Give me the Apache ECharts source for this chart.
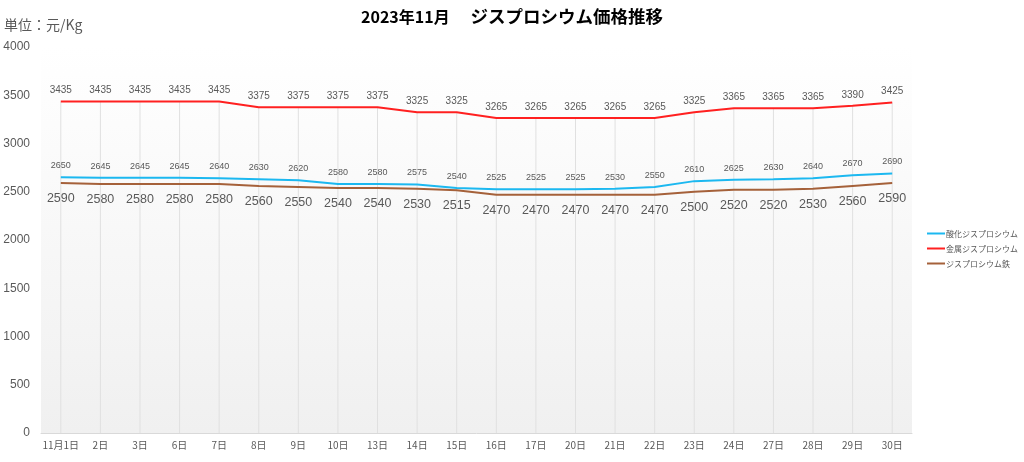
<!DOCTYPE html>
<html>
<head>
<meta charset="utf-8">
<script src="https://cdn.jsdelivr.net/npm/echarts@6/dist/echarts.min.js"></script>
<style>html,body{margin:0;padding:0;background:#fff;}#chart{width:1024px;height:462px;}</style>
</head>
<body>
<div id="chart"></div>
<script>
const categories = ['11月1日','2日','3日','6日','7日','8日','9日','10日','13日','14日','15日','16日','17日','20日','21日','22日','23日','24日','27日','28日','29日','30日'];
const oxideValues = [2650,2645,2645,2645,2640,2630,2620,2580,2580,2575,2540,2525,2525,2525,2530,2550,2610,2625,2630,2640,2670,2690];
const metalValues = [3435,3435,3435,3435,3435,3375,3375,3375,3375,3325,3325,3265,3265,3265,3265,3265,3325,3365,3365,3365,3390,3425];
const ironValues = [2590,2580,2580,2580,2580,2560,2550,2540,2540,2530,2515,2470,2470,2470,2470,2470,2500,2520,2520,2530,2560,2590];
const seriesNames = ['酸化ジスプロシウム','金属ジスプロシウム','ジスプロシウム鉄'];
const yTicks = {min: 0, max: 4000, interval: 500};

const FONT = '"Noto Sans CJK JP", "Noto Sans", sans-serif';
const NUMFONT = '"Liberation Sans", sans-serif';
const chart = echarts.init(document.getElementById('chart'), null, {renderer: 'canvas'});
chart.setOption({
  animation: false,
  backgroundColor: '#ffffff',
  textStyle: {fontFamily: FONT},
  title: [{
    text: '{a|2023年11月}{s|　 }{b|ジスプロシウム価格推移}',
    left: 'center', top: 8, padding: 0,
    textStyle: {
      fontFamily: FONT, fontSize: 16, fontWeight: 'bold', color: '#000000',
      rich: {
        a: {fontFamily: FONT, fontSize: 16, fontWeight: 'bold', color: '#000000'},
        s: {fontFamily: FONT, fontSize: 17, fontWeight: 'bold', color: '#000000'},
        b: {fontFamily: FONT, fontSize: 17.5, fontWeight: 'bold', color: '#000000'}
      }
    }
  }, {
    text: '単位：元/Kg',
    left: 4, top: 18, padding: 0,
    textStyle: {fontFamily: FONT, fontSize: 14, fontWeight: 'normal', color: '#595959'}
  }],
  legend: {
    orient: 'vertical',
    left: 927, top: 228, padding: 0,
    icon: 'rect',
    itemWidth: 18, itemHeight: 2, itemGap: 4,
    data: seriesNames,
    textStyle: {fontFamily: FONT, fontSize: 8, color: '#595959', padding: [0,0,0,-4], lineHeight: 11}
  },
  grid: {
    left: 41, right: 112, top: 47, bottom: 29,
    show: true, borderWidth: 0,
    backgroundColor: new echarts.graphic.LinearGradient(0, 0, 0, 1, [
      {offset: 0, color: '#ffffff'},
      {offset: 1, color: '#f0f0f0'}
    ])
  },
  xAxis: {
    type: 'category',
    data: categories,
    boundaryGap: true,
    axisLine: {show: true, lineStyle: {color: '#d9d9d9', width: 1}},
    axisTick: {show: false},
    splitLine: {show: false},
    axisLabel: {interval: 0, fontFamily: FONT, fontSize: 10, color: '#595959', margin: 7}
  },
  yAxis: {
    type: 'value',
    min: yTicks.min, max: yTicks.max, interval: yTicks.interval,
    axisLine: {show: false},
    axisTick: {show: false},
    splitLine: {show: false},
    axisLabel: {fontFamily: NUMFONT, fontSize: 12, color: '#595959', margin: 11, formatter: v => String(v)}
  },
  series: [
    {
      name: 'drop',
      type: 'bar',
      data: metalValues,
      barWidth: 1,
      silent: true,
      itemStyle: {color: '#e0e0e0'},
      z: 1
    },
    {
      name: seriesNames[0],
      type: 'line',
      data: oxideValues,
      symbol: 'circle', symbolSize: 0, showSymbol: true,
      lineStyle: {color: '#1cb8f0', width: 2},
      itemStyle: {color: '#1cb8f0'},
      label: {show: true, position: 'top', distance: 7, fontFamily: NUMFONT, fontSize: 9, color: '#595959'},
      z: 3
    },
    {
      name: seriesNames[1],
      type: 'line',
      data: metalValues,
      symbol: 'circle', symbolSize: 0, showSymbol: true,
      lineStyle: {color: '#ff2020', width: 2},
      itemStyle: {color: '#ff2020'},
      label: {show: true, position: 'top', distance: 6, fontFamily: NUMFONT, fontSize: 10, color: '#595959'},
      z: 3
    },
    {
      name: seriesNames[2],
      type: 'line',
      data: ironValues,
      symbol: 'circle', symbolSize: 0, showSymbol: true,
      lineStyle: {color: '#a5613a', width: 2},
      itemStyle: {color: '#a5613a'},
      label: {show: true, position: 'bottom', distance: 9, fontFamily: NUMFONT, fontSize: 12.5, color: '#595959'},
      z: 3
    }
  ]
});
</script>
</body>
</html>
